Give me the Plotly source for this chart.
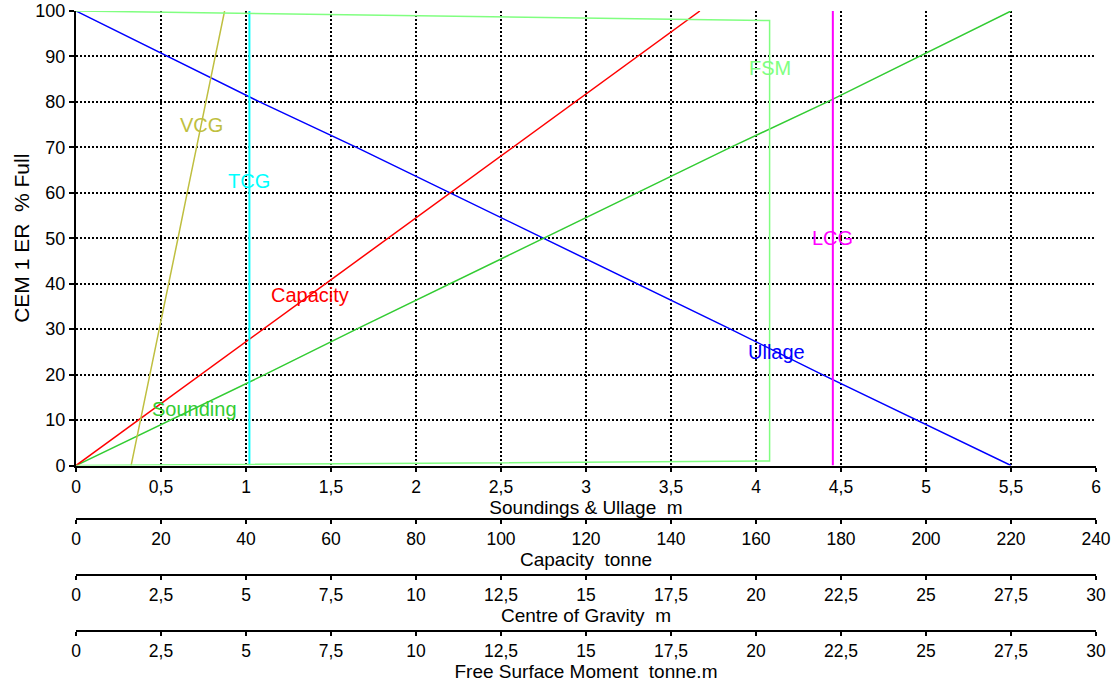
import numpy as np
import plotly.graph_objects as go

# ---------------- data ----------------
pct_full = [0, 10, 20, 30, 40, 50, 60, 70, 80, 90, 100]
sounding_m = [0.0, 0.56, 1.11, 1.65, 2.20, 2.75, 3.30, 3.85, 4.42, 4.96, 5.50]
ullage_m = [5.50, 4.94, 4.39, 3.85, 3.30, 2.75, 2.20, 1.65, 1.08, 0.54, 0.0]
capacity_t = [0.0, 14.7, 29.4, 44.0, 58.7, 73.4, 88.1, 102.8, 117.4, 132.1, 146.8]
vcg_m = [1.62, 1.90, 2.17, 2.45, 2.72, 3.00, 3.27, 3.55, 3.83, 4.10, 4.37]
tcg_m = [5.10] * 11
lcg_m = [22.26] * 11
fsm_pct = [0, 1.0, 97.9, 100]
fsm_tm = [0.0, 20.4, 20.4, 0.0]

x1_ticks = [0, 0.5, 1, 1.5, 2, 2.5, 3, 3.5, 4, 4.5, 5, 5.5, 6]
cap_ticks = list(range(0, 241, 20))
cog_ticks = [0, 2.5, 5, 7.5, 10, 12.5, 15, 17.5, 20, 22.5, 25, 27.5, 30]

# label positions (percent full at which each name is written)
label_pct = {"Sounding": 12.5, "Ullage": 25, "Capacity": 37.5, "LCG": 50,
             "TCG": 62.5, "VCG": 75, "FSM": 87.5}

# ---------------- styling ----------------
FONT = "Liberation Sans, Arial, sans-serif"
C_ULL = "#0000FF"
C_SND = "#33CC33"
C_CAP = "#FF0000"
C_VCG = "#BFBF40"
C_TCG = "#00FFFF"
C_LCG = "#FF00FF"
C_FSM = "#80FF80"

fig = go.Figure()

def add(x, y, color, name, axis, width=1.5):
    fig.add_trace(go.Scatter(x=x, y=y, mode="lines", name=name,
                             line=dict(color=color, width=width),
                             xaxis=axis, yaxis="y", showlegend=False,
                             hoverinfo="skip"))

add(fsm_tm, fsm_pct, C_FSM, "FSM", "x4")
add(ullage_m, pct_full, C_ULL, "Ullage", "x")
add(sounding_m, pct_full, C_SND, "Sounding", "x")
add(capacity_t, pct_full, C_CAP, "Capacity", "x2")
add(vcg_m, pct_full, C_VCG, "VCG", "x3")
add(tcg_m, pct_full, C_TCG, "TCG", "x3", 2)
add(lcg_m, pct_full, C_LCG, "LCG", "x3", 2)

# labels along the curves
def lab(text, xs, ys, color, xref):
    p = label_pct[text]
    order = np.argsort(ys)
    xv = float(np.interp(p, np.array(ys)[order], np.array(xs)[order]))
    fig.add_annotation(x=xv, y=p, xref=xref, yref="y", text=text,
                       showarrow=False, font=dict(family=FONT, size=20, color=color),
                       xanchor="center", yanchor="middle")

lab("Sounding", sounding_m, pct_full, C_SND, "x")
lab("Ullage", ullage_m, pct_full, C_ULL, "x")
lab("Capacity", capacity_t, pct_full, C_CAP, "x2")
lab("LCG", lcg_m, pct_full, C_LCG, "x3")
lab("TCG", tcg_m, pct_full, C_TCG, "x3")
lab("VCG", vcg_m, pct_full, C_VCG, "x3")
lab("FSM", [20.4, 20.4], [1.0, 97.9], C_FSM, "x4")

ytickfont = dict(family=FONT, size=18, color="black")
xtickfont = dict(family=FONT, size=17.5, color="black")
titlefont = dict(family=FONT, size=19, color="black")
GRID = dict(showgrid=True, gridcolor="black", gridwidth=1.5, griddash="2px,2px")

common_x = dict(showline=True, linecolor="black", linewidth=2, ticks="outside",
                ticklen=4, tickwidth=1.5, tickcolor="black", tickfont=xtickfont,
                zeroline=False, fixedrange=True, automargin=False)

fig.update_layout(
    width=1116, height=684,
    margin=dict(l=76, r=20, t=11, b=8, autoexpand=False),
    paper_bgcolor="white", plot_bgcolor="white",
    separators=", ",
    font=dict(family=FONT, color="black"),
    yaxis=dict(domain=[0.3165, 1], range=[0, 100], tickvals=list(range(0, 101, 10)),
               showline=True, linecolor="black", linewidth=2, ticks="outside",
               ticklen=5, tickwidth=1.5, tickcolor="black", tickfont=ytickfont,
               zeroline=False, automargin=False, fixedrange=True, **GRID,
               title=dict(text="CEM 1 ER\u00a0 % Full",
                          font=dict(family=FONT, size=21, color="black"), standoff=0)),
    xaxis=dict(range=[0, 6], tickvals=x1_ticks, anchor="y", **common_x, **GRID,
               title=dict(text="Soundings & Ullage\u00a0 m", font=titlefont, standoff=0)),
    xaxis2=dict(range=[0, 240], tickvals=cap_ticks, overlaying="x", anchor="free",
                position=0.2361, side="bottom", showgrid=False, **common_x,
                title=dict(text="Capacity\u00a0 tonne", font=titlefont, standoff=0)),
    xaxis3=dict(range=[0, 30], tickvals=cog_ticks, overlaying="x", anchor="free",
                position=0.1523, side="bottom", showgrid=False, **common_x,
                title=dict(text="Centre of Gravity\u00a0 m", font=titlefont, standoff=0)),
    xaxis4=dict(range=[0, 30], tickvals=cog_ticks, overlaying="x", anchor="free",
                position=0.0677, side="bottom", showgrid=False, **common_x,
                title=dict(text="Free Surface Moment\u00a0 tonne.m", font=titlefont, standoff=0)),
)

# the page's default 8px body margin would push the 1116x684 figure off the window
fig.write_html("out.html", config={"displayModeBar": False},
               post_script="document.body.style.margin='0px';")
